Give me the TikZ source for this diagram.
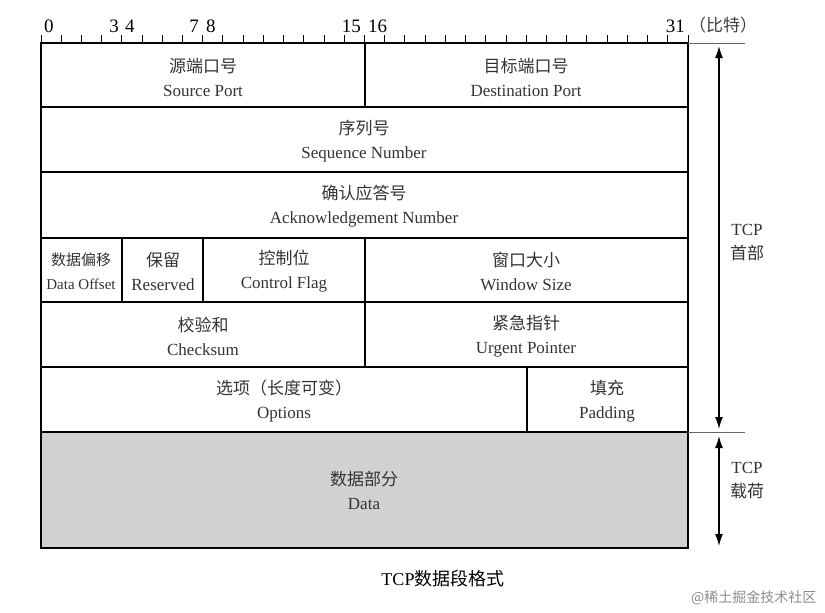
\documentclass[tikz,border=0pt]{standalone}
\usepackage{fontspec}
\setmainfont{Liberation Serif}
\newfontfamily\cjk{Noto Sans CJK SC}
\usetikzlibrary{arrows.meta}
\begin{document}
\begin{tikzpicture}[x=1pt,y=-1pt,
  cell/.style={align=center,font=\fontsize{17}{24}\selectfont,text=black!80},
  thin/.style={line width=1.8pt},
  dblarrow/.style={line width=1.4pt,{Latex[length=12pt,width=8pt]}-{Latex[length=12pt,width=8pt]}}]
\useasboundingbox (0,0) rectangle (825,613);
\fill[black!18] (41,432) rectangle (688,548);
\foreach \y in {107,172,238,302,367,432} \draw[thin] (41,\y) -- (688,\y);
\draw[thin] (365,43) -- (365,107);
\draw[thin] (122,238) -- (122,302);
\draw[thin] (203,238) -- (203,302);
\draw[thin] (365,238) -- (365,367);
\draw[thin] (527,367) -- (527,432);
\draw[line width=2.8pt] (41,43) rectangle (688,548);
\foreach \i in {0,...,32} \draw[line width=1pt] ({41+\i*20.22},43) -- ({41+\i*20.22},35);
\tikzset{rl/.style={font=\fontsize{19}{19}\selectfont,inner sep=1pt,anchor=base}}
\node[rl,anchor=base west] (r0) at (43,32) {0};
\node[rl,anchor=base east] (r3) at (120,32) {3};
\node[rl,anchor=base west] (r4) at (124,32) {4};
\node[rl,anchor=base east] (r7) at (200,32) {7};
\node[rl,anchor=base west] (r8) at (205,32) {8};
\node[rl,anchor=base east] (r15) at (362,32) {15};
\node[rl,anchor=base west] (r16) at (367,32) {16};
\node[rl,anchor=base east] (r31) at (686,32) {31};
\node[rl,anchor=base west,font=\fontsize{17}{17}\selectfont\cjk,text=black!75] (unit) at (688,31) {（比特）};
\draw[line width=0.6pt,black!60] (688,43) -- (745,43);
\draw[line width=0.6pt,black!60] (688,432) -- (745,432);
\coordinate (t1) at (719,46); \coordinate (t2) at (719,429);
\coordinate (t3) at (719,436); \coordinate (t4) at (719,546);
\draw[dblarrow] (t1) -- (t2);
\draw[dblarrow] (t3) -- (t4);
\node[cell,fill=white,inner sep=2pt] (hdr) at (747,243) {TCP\\{\cjk 首部}};
\node[cell,fill=white,inner sep=2pt] (pl) at (747,481) {TCP\\{\cjk 载荷}};
\node[cell] (sp) at (203,77) {{\cjk 源端口号}\\Source Port};
\node[cell] (dp) at (526,77) {{\cjk 目标端口号}\\Destination Port};
\node[cell] (sn) at (364,141) {{\cjk 序列号}\\Sequence Number};
\node[cell] (an) at (364,206) {{\cjk 确认应答号}\\Acknowledgement Number};
\node[cell,font=\fontsize{15}{24}\selectfont] (do) at (81,271) {{\cjk 数据偏移}\\Data Offset};
\node[cell] (rs) at (163,271) {{\cjk 保留}\\Reserved};
\node[cell] (cf) at (284,271) {{\cjk 控制位}\\Control Flag};
\node[cell] (ws) at (526,271) {{\cjk 窗口大小}\\Window Size};
\node[cell] (cs) at (203,336) {{\cjk 校验和}\\Checksum};
\node[cell] (up) at (526,336) {{\cjk 紧急指针}\\Urgent Pointer};
\node[cell] (op) at (284,401) {{\cjk 选项（长度可变）}\\Options};
\node[cell] (pd) at (607,401) {{\cjk 填充}\\Padding};
\node[cell] (dt) at (364,490) {{\cjk 数据部分}\\Data};
\node[font=\fontsize{18}{20}\selectfont] (cap) at (443,579) {TCP{\cjk 数据段格式}};
\node[font=\fontsize{14}{16}\selectfont\cjk,text=black!45,anchor=east] (wm) at (820,598) {@稀土掘金技术社区};
\end{tikzpicture}
\end{document}
